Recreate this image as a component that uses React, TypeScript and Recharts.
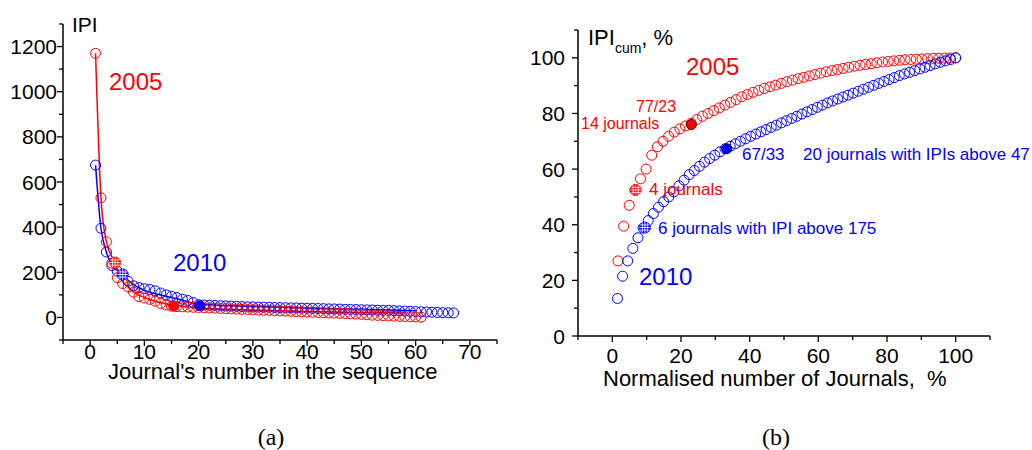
import { ComposedChart, Line, Scatter, XAxis, YAxis } from "recharts";

// (a) IPI of each journal, in rank order (journal number = index + 1)
const ipi2005 = [
  1170, 530, 335, 240, 176, 150, 135, 112, 92, 86,
  80, 72, 62, 55, 50, 48, 47, 46, 45, 44,
  43, 42, 41, 40, 39, 38, 37, 36, 35, 34,
  33, 32, 31, 30, 29, 28, 27, 26, 25, 24,
  23, 22, 21, 20, 19, 18, 17, 16, 15, 14,
  12, 10, 9, 8, 7, 6, 5, 4, 3, 2,
  1,
];
const ipi2010 = [
  675, 395, 290, 230, 205, 190, 160, 140, 132, 127,
  124, 118, 108, 100, 94, 88, 81, 75, 66, 56,
  55, 54, 53, 52, 51, 50, 49, 48, 47, 46.5,
  46, 45.5, 45, 44, 43.5, 43, 42.5, 42, 41, 40.5,
  40, 39.5, 39, 38, 37.5, 37, 36, 35.5, 35, 34,
  33.5, 33, 32, 31.5, 31, 30, 29, 28, 27, 26,
  25, 24, 23, 22, 21, 20.5, 20,
];

// (a) smooth curves drawn through the points
const fit2005X = [1, 2, 3, 4.6, 6, 7, 8, 10, 12, 15, 20, 25, 30, 40, 50, 58];
const fit2005Y = [1170, 530, 335, 243, 160, 135, 112, 88, 72, 56, 42, 36, 32, 26, 22, 19];
const fit2010X = [1, 2, 3, 4, 6, 7, 8, 10, 12, 15, 18, 20, 25, 30, 40, 50, 60];
const fit2010Y = [675, 395, 290, 232, 190, 165, 145, 120, 105, 88, 70, 58, 52, 48, 42, 36, 30];

// (b) cumulative IPI, % (x = normalised journal number)
const cum2005 = [
  27, 39.5, 47, 52.5, 56.5, 60, 65, 68, 70, 71.8,
  73.3, 74.5, 75.5, 76.5, 77.8, 79, 80, 81, 82, 83,
  84, 85, 86, 86.8, 87.6, 88.3, 89, 89.6, 90.2, 90.8,
  91.4, 92, 92.5, 93, 93.5, 94, 94.5, 95, 95.4, 95.8,
  96.2, 96.6, 97, 97.3, 97.6, 97.9, 98.2, 98.5, 98.7, 98.9,
  99.1, 99.3, 99.4, 99.5, 99.6, 99.7, 99.8, 99.85, 99.9, 99.95,
  100,
];
const cum2010 = [
  13.5, 21.5, 27, 31.5, 35.3, 38.8, 41.5, 44, 46.3, 48.3,
  50, 51.8, 54, 56, 58, 59.5, 61, 62.5, 63.8, 65,
  66.2, 67.3, 68.2, 69.1, 70, 70.9, 71.8, 72.6, 73.4, 74.2,
  75, 75.8, 76.6, 77.4, 78.2, 79, 79.8, 80.6, 81.4, 82.2,
  83, 83.8, 84.5, 85.2, 85.9, 86.6, 87.3, 88, 88.7, 89.4,
  90.1, 90.8, 91.5, 92.2, 92.9, 93.6, 94.2, 94.8, 95.4, 96,
  96.6, 97.2, 97.8, 98.4, 98.9, 99.4, 100,
];

// highlighted journals
const marksA2005 = [{ x: 4.6, y: 243, kind: "hatch" }, { x: 15.4, y: 50, kind: "fill" }];
const marksA2010 = [{ x: 6, y: 190, kind: "hatch" }, { x: 20.2, y: 52, kind: "fill" }];
const marksB2005 = [{ x: 6.8, y: 52.5, kind: "hatch" }, { x: 23, y: 76, kind: "fill" }];
const marksB2010 = [{ x: 9.5, y: 39, kind: "hatch" }, { x: 33.3, y: 67.3, kind: "fill" }];

const ticksAX = [-5, 0, 5, 10, 15, 20, 25, 30, 35, 40, 45, 50, 55, 60, 65, 70, 75];
const ticksAY = [-100, 0, 100, 200, 300, 400, 500, 600, 700, 800, 900, 1000, 1100, 1200, 1300];
const ticksBX = [-10, 0, 10, 20, 30, 40, 50, 60, 70, 80, 90, 100, 110];
const ticksBY = [0, 10, 20, 30, 40, 50, 60, 70, 80, 90, 100, 110];

const RED = "#ff0000";
const BLUE = "#0000ff";
const SANS = "'Liberation Sans', Arial, sans-serif";

const byIndex = (vals: number[]) => vals.map((y, i) => ({ x: i + 1, y }));
const normalised = (vals: number[]) => vals.map((y, i) => ({ x: ((i + 1) / vals.length) * 100, y }));
const pairs = (xs: number[], ys: number[]) => xs.map((x, i) => ({ x, y: ys[i] }));

function openCircle(color: string) {
  return (p: any) => <circle cx={p.cx} cy={p.cy} r={5} fill="none" stroke={color} strokeWidth={1} />;
}

function mark(color: string, ring: string) {
  return (p: any) => {
    const { cx, cy } = p;
    if (p.payload.kind === "fill") {
      return <circle cx={cx} cy={cy} r={5} fill={color} stroke={ring} strokeWidth={1} />;
    }
    const r = 5.5;
    const offs = [-2.6, 0, 2.6];
    return (
      <g>
        <circle cx={cx} cy={cy} r={r} fill={color} stroke={color} />
        {offs.map((d) => {
          const h = Math.sqrt(r * r - d * d);
          return (
            <g key={d}>
              <line x1={cx + d} x2={cx + d} y1={cy - h} y2={cy + h} stroke="#fff" strokeWidth={0.8} />
              <line y1={cy + d} y2={cy + d} x1={cx - h} x2={cx + h} stroke="#fff" strokeWidth={0.8} />
            </g>
          );
        })}
      </g>
    );
  };
}

function bottomTick(labelled: (v: number) => boolean, gap: number) {
  return (p: any) => {
    const v = p.payload.value;
    const major = labelled(v);
    return (
      <g>
        <line x1={p.x} x2={p.x} y1={p.y} y2={p.y + (major ? 6 : 4)} stroke="#000" strokeWidth={1.3} />
        {major && (
          <text x={p.x} y={p.y + gap} textAnchor="middle" fontSize={21} fontFamily={SANS} fill="#000">
            {v}
          </text>
        )}
      </g>
    );
  };
}

function leftTick(labelled: (v: number) => boolean, gap: number) {
  return (p: any) => {
    const v = p.payload.value;
    const major = labelled(v);
    return (
      <g>
        <line x1={p.x - (major ? 6 : 4)} x2={p.x} y1={p.y} y2={p.y} stroke="#000" strokeWidth={1.3} />
        {major && (
          <text x={p.x - gap} y={p.y + 7.5} textAnchor="end" fontSize={21} fontFamily={SANS} fill="#000">
            {v}
          </text>
        )}
      </g>
    );
  };
}

const axisLine = { stroke: "#000", strokeWidth: 1.5 };

function PanelA() {
  return (
    <ComposedChart width={520} height={400} margin={{ top: 24, right: 23, bottom: 30, left: 13 }}>
      <XAxis
        type="number"
        dataKey="x"
        domain={[-5, 75]}
        ticks={ticksAX}
        allowDataOverflow
        interval={0}
        height={30}
        tickSize={0}
        tickMargin={0}
        axisLine={axisLine}
        tickLine={false}
        tick={bottomTick((v) => v >= 0 && v <= 70 && v % 10 === 0, 19)}
      />
      <YAxis
        type="number"
        dataKey="y"
        domain={[-100, 1300]}
        ticks={ticksAY}
        allowDataOverflow
        interval={0}
        width={50}
        tickSize={0}
        tickMargin={0}
        axisLine={axisLine}
        tickLine={false}
        tick={leftTick((v) => v >= 0 && v <= 1200 && v % 200 === 0, 6)}
      />
      <Line data={pairs(fit2010X, fit2010Y)} dataKey="y" type="monotone" stroke={BLUE} strokeWidth={1.5} dot={false} isAnimationActive={false} />
      <Line data={pairs(fit2005X, fit2005Y)} dataKey="y" type="monotone" stroke={RED} strokeWidth={1.5} dot={false} isAnimationActive={false} />
      <Scatter data={byIndex(ipi2010)} dataKey="y" shape={openCircle(BLUE)} isAnimationActive={false} />
      <Scatter data={byIndex(ipi2005)} dataKey="y" shape={openCircle(RED)} isAnimationActive={false} />
      <Scatter data={marksA2005} dataKey="y" shape={mark(RED, RED)} isAnimationActive={false} />
      <Scatter data={marksA2010} dataKey="y" shape={mark(BLUE, BLUE)} isAnimationActive={false} />
    </ComposedChart>
  );
}

function PanelB() {
  return (
    <ComposedChart width={512} height={400} margin={{ top: 30, right: 42, bottom: 34, left: 8 }}>
      <XAxis
        type="number"
        dataKey="x"
        domain={[-10, 110]}
        ticks={ticksBX}
        allowDataOverflow
        interval={0}
        height={30}
        tickSize={0}
        tickMargin={0}
        axisLine={axisLine}
        tickLine={false}
        tick={bottomTick((v) => v >= 0 && v <= 100 && v % 20 === 0, 27)}
      />
      <YAxis
        type="number"
        dataKey="y"
        domain={[0, 110]}
        ticks={ticksBY}
        allowDataOverflow
        interval={0}
        width={50}
        tickSize={0}
        tickMargin={0}
        axisLine={axisLine}
        tickLine={false}
        tick={leftTick((v) => v <= 100 && v % 20 === 0, 13)}
      />
      <Scatter data={normalised(cum2005)} dataKey="y" shape={openCircle(RED)} isAnimationActive={false} />
      <Scatter data={normalised(cum2010)} dataKey="y" shape={openCircle(BLUE)} isAnimationActive={false} />
      <Scatter data={marksB2005} dataKey="y" shape={mark(RED, "#400")} isAnimationActive={false} />
      <Scatter data={marksB2010} dataKey="y" shape={mark(BLUE, "#002")} isAnimationActive={false} />
    </ComposedChart>
  );
}

export default function App() {
  const t = (x: number, y: number, size: number, color: string, s: string) => (
    <text x={x} y={y} fontSize={size} fill={color} fontFamily={SANS} style={{ whiteSpace: "pre" }}>
      {s}
    </text>
  );
  return (
    <div style={{ position: "absolute", left: 0, top: 0, width: 1032, height: 450, background: "#fff" }}>
      <div style={{ position: "absolute", left: 0, top: 0 }}>
        <PanelA />
      </div>
      <div style={{ position: "absolute", left: 520, top: 0 }}>
        <PanelB />
      </div>
      <svg width={1032} height={450} style={{ position: "absolute", left: 0, top: 0, pointerEvents: "none" }}>
        {t(72, 32, 21, "#000", "IPI")}
        {t(109, 90, 24, RED, "2005")}
        {t(173, 271, 24, BLUE, "2010")}
        {t(108, 379, 22, "#000", "Journal's number in the sequence")}

        <text x={588} y={45} fontSize={22} fill="#000" fontFamily={SANS}>
          IPI
          <tspan fontSize={14} dy={8}>cum</tspan>
          <tspan fontSize={22} dy={-8}>, %</tspan>
        </text>
        {t(686, 75, 24, RED, "2005")}
        {t(636, 112, 16, RED, "77/23")}
        {t(581, 129, 16, RED, "14 journals")}
        {t(742, 160, 17, BLUE, "67/33")}
        {t(803, 160, 17, BLUE, "20 journals with IPIs above 47")}
        {t(649, 195, 17, RED, "4 journals")}
        {t(658, 234, 17, BLUE, "6 journals with IPI above 175")}
        {t(639, 285, 24, BLUE, "2010")}
        {t(603, 386, 22, "#000", "Normalised number of Journals,  %")}

        <text x={271} y={445} fontSize={24} textAnchor="middle" fontFamily="'Liberation Serif', 'Times New Roman', serif">(a)</text>
        <text x={776} y={445} fontSize={24} textAnchor="middle" fontFamily="'Liberation Serif', 'Times New Roman', serif">(b)</text>
      </svg>
    </div>
  );
}
